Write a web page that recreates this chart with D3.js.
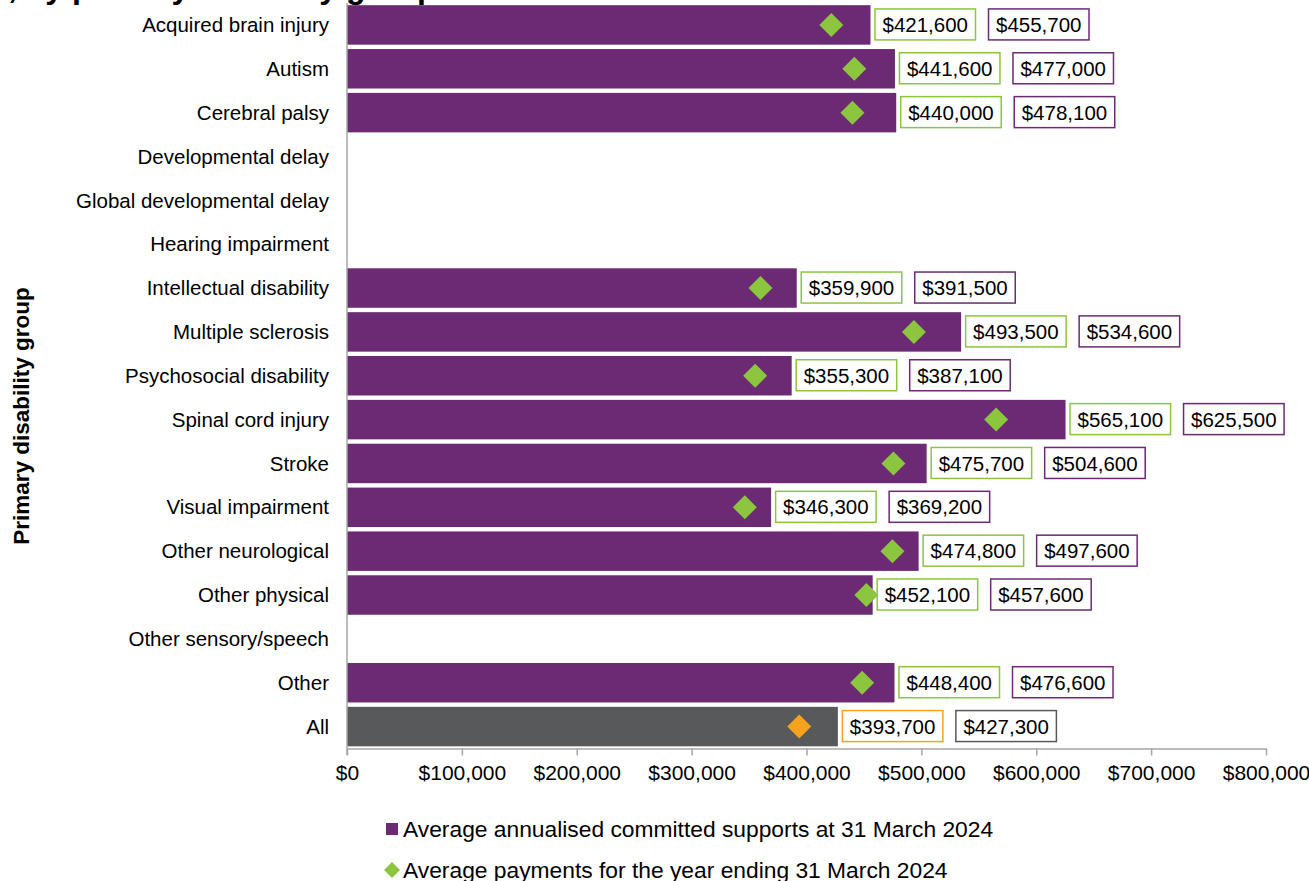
<!DOCTYPE html>
<html><head><meta charset="utf-8">
<script src="https://cdn.jsdelivr.net/npm/d3@7"></script>
<style>
html,body{margin:0;padding:0;background:#fff;}
svg{display:block;font-family:"Liberation Sans",Arial,sans-serif;}
</style></head>
<body>
<svg id="chart" width="1309" height="881"></svg>
<script>
const categories = ["Acquired brain injury","Autism","Cerebral palsy","Developmental delay","Global developmental delay","Hearing impairment","Intellectual disability","Multiple sclerosis","Psychosocial disability","Spinal cord injury","Stroke","Visual impairment","Other neurological","Other physical","Other sensory/speech","Other","All"];
const committed = [455700,477000,478100,null,null,null,391500,534600,387100,625500,504600,369200,497600,457600,null,476600,427300];
const payments  = [421600,441600,440000,null,null,null,359900,493500,355300,565100,475700,346300,474800,452100,null,448400,393700];
const xTicks = [0,100000,200000,300000,400000,500000,600000,700000,800000];
const legendLabels = ["Average annualised committed supports at 31 March 2024","Average payments for the year ending 31 March 2024"];
const titleText = ", by primary disability group";
const yAxisTitle = "Primary disability group";

const PURPLE = "#6b2a73", GREEN = "#8cc63f", ORANGE = "#f7a21d", GREY = "#58595b", AXIS = "#a6a6a6";
const svg = d3.select("#chart");
const fmt = v => "$" + d3.format(",")(v);

const x = d3.scaleLinear().domain([0, 800000]).range([347, 1266]);
const y = d3.scaleBand().domain(categories).range([3, 748.5]).paddingInner(0.1).paddingOuter(0.05);

// cut-off title (only its lower part is visible, as in the reference)
svg.append("text").attr("x", 8).attr("y", -2.5).attr("font-size", 32).attr("font-weight", "bold")
  .attr("fill", "#000").text(titleText);

const data = categories.map((c, i) => ({c, v: committed[i], p: payments[i], all: c === "All"}));
const shown = data.filter(d => d.v != null);

// bars
svg.append("g").selectAll("rect").data(shown).join("rect")
  .attr("x", x(0)).attr("y", d => y(d.c))
  .attr("width", d => x(d.v) - x(0)).attr("height", y.bandwidth())
  .attr("fill", d => d.all ? GREY : PURPLE);

// axes
const ax = svg.append("g").attr("transform", "translate(0,748.5)")
  .call(d3.axisBottom(x).tickValues(xTicks).tickFormat(d => fmt(d)).tickSize(7).tickSizeOuter(0).tickPadding(10));
ax.select(".domain").attr("stroke", AXIS).attr("stroke-width", 1.5);
ax.selectAll(".tick line").attr("stroke", AXIS).attr("stroke-width", 1.5);
ax.selectAll(".tick text").attr("font-size", 21).attr("fill", "#000").attr("font-family", "Liberation Sans, Arial, sans-serif");

svg.append("line").attr("x1", x(0)).attr("x2", x(0)).attr("y1", 3).attr("y2", 755)
  .attr("stroke", AXIS).attr("stroke-width", 1.5);

// category labels
svg.append("g").selectAll("text").data(categories).join("text")
  .attr("x", 329).attr("y", d => y(d) + y.bandwidth() / 2).attr("dy", "0.35em")
  .attr("text-anchor", "end").attr("font-size", 20.5).attr("fill", "#000").text(d => d);

// diamonds
const dsz = 12;
svg.append("g").selectAll("path").data(shown).join("path")
  .attr("d", d => {
    const cx = x(d.p), cy = y(d.c) + y.bandwidth() / 2;
    return `M${cx},${cy - dsz}L${cx + dsz},${cy}L${cx},${cy + dsz}L${cx - dsz},${cy}Z`;
  })
  .attr("fill", d => d.all ? ORANGE : GREEN);

// label boxes
const lg = svg.append("g");
shown.forEach(d => {
  const cy = y(d.c) + y.bandwidth() / 2;
  let left = x(d.v) + 4.5;
  const pairs = [
    {v: d.p, stroke: d.all ? ORANGE : GREEN},
    {v: d.v, stroke: d.all ? "#595959" : PURPLE}
  ];
  pairs.forEach(pr => {
    const g = lg.append("g");
    const rect = g.append("rect");
    const t = g.append("text").attr("font-size", 20.5).attr("fill", "#000").attr("dy", "0.35em").text(fmt(pr.v));
    const w = t.node().getComputedTextLength();
    const bw = w + 15, bh = 31;
    rect.attr("x", left).attr("y", cy - bh / 2 - 0.5).attr("width", bw).attr("height", bh)
      .attr("fill", "#fff").attr("stroke", pr.stroke).attr("stroke-width", 1.5);
    t.attr("x", left + 7.5).attr("y", cy);
    left += bw + 13;
  });
});

// y axis title
svg.append("text").attr("transform", "translate(29,416) rotate(-90)").attr("text-anchor", "middle")
  .attr("font-size", 22.5).attr("font-weight", "bold").attr("fill", "#000").text(yAxisTitle);

// legend
const leg = svg.append("g");
leg.append("rect").attr("x", 386).attr("y", 823).attr("width", 12).attr("height", 12).attr("fill", PURPLE);
leg.append("text").attr("x", 403).attr("y", 829).attr("dy", "0.35em").attr("font-size", 22.8).attr("fill", "#000").text(legendLabels[0]);
leg.append("path").attr("d", "M392,862L400,870L392,878L384,870Z").attr("fill", GREEN);
leg.append("text").attr("x", 403).attr("y", 870).attr("dy", "0.35em").attr("font-size", 22.8).attr("fill", "#000").text(legendLabels[1]);
</script>
</body></html>
